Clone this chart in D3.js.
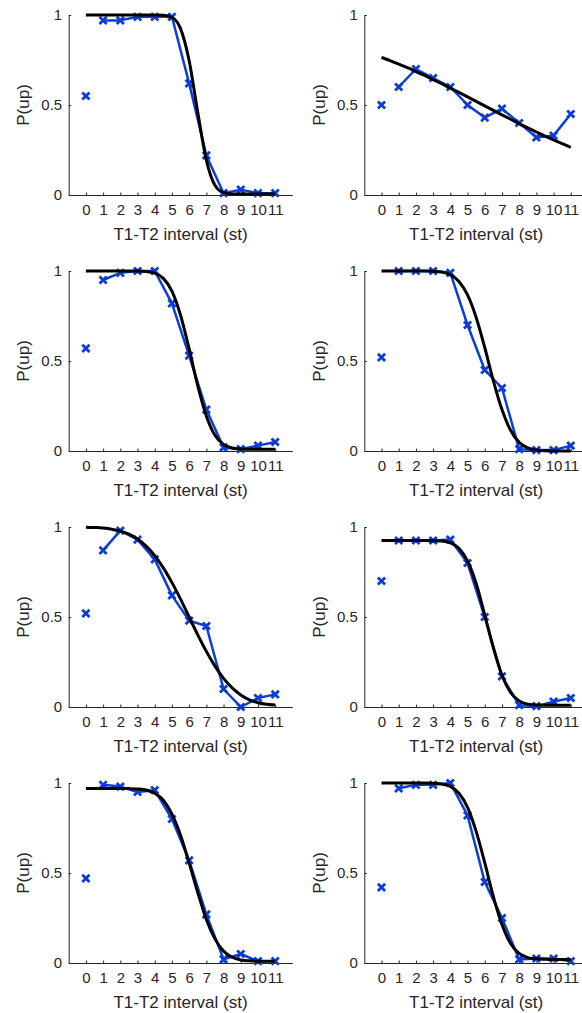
<!DOCTYPE html>
<html>
<head>
<meta charset="utf-8">
<script src="https://cdn.jsdelivr.net/npm/d3@7"></script>
<style>
  html, body { margin: 0; padding: 0; background: #ffffff; }
  svg { display: block; }
  text { font-family: "Liberation Sans", Arial, Helvetica, sans-serif; fill: #262626; }
</style>
</head>
<body>
<svg id="chart" width="582" height="1013"></svg>
<script>
// ---------------- data ----------------
const xTicks = [0, 1, 2, 3, 4, 5, 6, 7, 8, 9, 10, 11];
const xTickLabels = ["0", "1", "2", "3", "4", "5", "6", "7", "8", "9", "10", "11"];
const yTicks = [0, 0.5, 1];
const yTickLabels = ["0", "0.5", "1"];
const xLabel = "T1-T2 interval (st)";
const yLabel = "P(up)";

// observed proportions, interval 0..11
const pUp1 = [0.55, 0.97, 0.97, 0.99, 0.99, 0.99, 0.62, 0.22, 0.01, 0.03, 0.01, 0.01];
const pUp2 = [0.50, 0.60, 0.70, 0.65, 0.60, 0.50, 0.43, 0.48, 0.40, 0.32, 0.33, 0.45];
const pUp3 = [0.57, 0.95, 0.99, 1.00, 1.00, 0.82, 0.53, 0.23, 0.02, 0.01, 0.03, 0.05];
const pUp4 = [0.52, 1.00, 1.00, 1.00, 0.99, 0.70, 0.45, 0.35, 0.01, 0.005, 0.005, 0.03];
const pUp5 = [0.52, 0.87, 0.98, 0.93, 0.82, 0.62, 0.48, 0.45, 0.10, 0.00, 0.05, 0.07];
const pUp6 = [0.70, 0.925, 0.925, 0.925, 0.93, 0.80, 0.50, 0.17, 0.01, 0.005, 0.03, 0.05];
const pUp7 = [0.47, 0.99, 0.98, 0.95, 0.96, 0.80, 0.57, 0.27, 0.02, 0.05, 0.01, 0.01];
const pUp8 = [0.42, 0.97, 0.99, 0.99, 1.00, 0.82, 0.45, 0.25, 0.02, 0.025, 0.025, 0.01];

// fitted curves, read at interval 0, 0.5, 1, ... 11
const fitX = [0, 0.5, 1, 1.5, 2, 2.5, 3, 3.5, 4, 4.5, 5, 5.5, 6, 6.5, 7, 7.5, 8, 8.5, 9, 9.5, 10, 10.5, 11];
const fit1 = [1, 1, 1, 1, 1, 1, 1, 1, 1, 0.998, 0.986, 0.924, 0.746, 0.459, 0.194, 0.054, 0.013, 0.006, 0.005, 0.005, 0.005, 0.005, 0.005];
const fit2 = [0.765, 0.746, 0.727, 0.707, 0.686, 0.664, 0.641, 0.618, 0.594, 0.570, 0.545, 0.520, 0.495, 0.470, 0.445, 0.421, 0.397, 0.373, 0.350, 0.327, 0.306, 0.285, 0.265];
const fit3 = [1, 1, 1, 1, 1, 1, 1, 0.997, 0.988, 0.959, 0.888, 0.754, 0.567, 0.362, 0.195, 0.087, 0.036, 0.017, 0.011, 0.010, 0.010, 0.010, 0.010];
const fit4 = [1, 1, 1, 1, 1, 1, 0.998, 0.994, 0.979, 0.942, 0.867, 0.742, 0.575, 0.390, 0.230, 0.115, 0.048, 0.017, 0.005, 0.001, 0, 0, 0];
const fit5 = [0.999, 0.997, 0.994, 0.988, 0.977, 0.960, 0.933, 0.894, 0.841, 0.773, 0.691, 0.599, 0.500, 0.401, 0.309, 0.227, 0.159, 0.106, 0.067, 0.040, 0.024, 0.015, 0.011];
const fit6 = [0.925, 0.925, 0.925, 0.925, 0.925, 0.925, 0.924, 0.922, 0.912, 0.882, 0.811, 0.686, 0.511, 0.328, 0.176, 0.081, 0.034, 0.016, 0.011, 0.010, 0.010, 0.010, 0.010];
const fit7 = [0.97, 0.97, 0.97, 0.97, 0.97, 0.969, 0.967, 0.961, 0.943, 0.904, 0.827, 0.710, 0.555, 0.391, 0.242, 0.134, 0.066, 0.032, 0.017, 0.012, 0.010, 0.010, 0.010];
const fit8 = [1, 1, 1, 1, 1, 1, 0.999, 0.995, 0.981, 0.943, 0.865, 0.731, 0.557, 0.369, 0.214, 0.108, 0.053, 0.030, 0.023, 0.021, 0.020, 0.020, 0.020];

const observed = [pUp1, pUp2, pUp3, pUp4, pUp5, pUp6, pUp7, pUp8];
const fitted = [fit1, fit2, fit3, fit4, fit5, fit6, fit7, fit8];

// ---------------- layout ----------------
const colLeft = [68.7, 364.3];
const plotW = 223.7;
const firstTop = 15;
const rowStep = 256;
const plotH = 180;
const blue = "#0c3dd4";
const axisColor = "#262626";

const svg = d3.select("#chart");
svg.append("rect").attr("width", 582).attr("height", 1013).attr("fill", "#fff");

observed.forEach((obs, i) => {
  const r = Math.floor(i / 2), c = i % 2;
  const left = colLeft[c];
  const top = firstTop + r * rowStep;
  const x = d3.scaleLinear().domain([-1, 12]).range([left, left + plotW]);
  const y = d3.scaleLinear().domain([0, 1]).range([top + plotH, top]);
  const g = svg.append("g");

  // axes
  const xa = g.append("g").attr("transform", `translate(0,${top + plotH})`)
    .call(d3.axisBottom(x).tickValues(xTicks).tickFormat((d, k) => xTickLabels[k])
      .tickSizeInner(-2.5).tickSizeOuter(0).tickPadding(9));
  const ya = g.append("g").attr("transform", `translate(${left},0)`)
    .call(d3.axisLeft(y).tickValues(yTicks).tickFormat((d, k) => yTickLabels[k])
      .tickSizeInner(-2.5).tickSizeOuter(0).tickPadding(6.5));
  [xa, ya].forEach(a => {
    a.select(".domain").attr("stroke", axisColor).attr("stroke-width", 1);
    a.selectAll(".tick line").attr("stroke", axisColor);
    a.selectAll(".tick text").attr("fill", axisColor).style("font-size", "15px")
      .style("font-family", '"Liberation Sans", Arial, sans-serif');
  });

  // data line (intervals 1..11)
  const pts = obs.map((v, k) => [xTicks[k], v]);
  g.append("path")
    .datum(pts.slice(1))
    .attr("fill", "none").attr("stroke", blue).attr("stroke-width", 2.5)
    .attr("stroke-linejoin", "round")
    .attr("d", d3.line().x(d => x(d[0])).y(d => y(d[1])));

  // x markers
  const s = 3.6;
  g.append("g").selectAll("path").data(pts).join("path")
    .attr("transform", d => `translate(${x(d[0])},${y(d[1])})`)
    .attr("d", `M${-s},${-s}L${s},${s}M${-s},${s}L${s},${-s}`)
    .attr("stroke", blue).attr("stroke-width", 2.8).attr("fill", "none");

  // fitted curve
  const fpts = fitX.map((xv, k) => [xv, fitted[i][k]]);
  g.append("path")
    .datum(fpts)
    .attr("fill", "none").attr("stroke", "#000").attr("stroke-width", 3)
    .attr("d", d3.line().curve(d3.curveMonotoneX).x(d => x(d[0])).y(d => y(d[1])));

  // labels
  g.append("text")
    .attr("x", x(5.5)).attr("y", top + plotH + 45)
    .attr("text-anchor", "middle").style("font-size", "17px")
    .text(xLabel);
  g.append("text")
    .attr("transform", `translate(${left - 39.7},${top + plotH / 2}) rotate(-90)`)
    .attr("text-anchor", "middle").style("font-size", "17px")
    .text(yLabel);
});
</script>
</body>
</html>
